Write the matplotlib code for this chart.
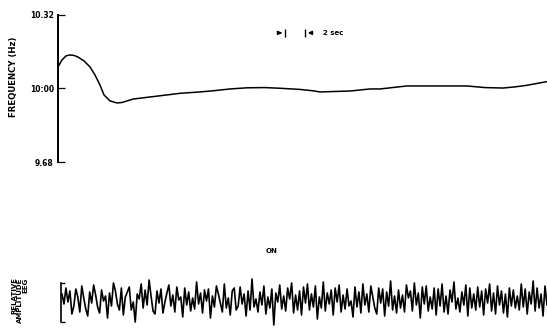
import numpy as np
import matplotlib
matplotlib.use('Agg')
import matplotlib.pyplot as plt

# ── frequency trace (time in s, frequency in Hz) ─────────────────────────────
freq_t = [0.0, 0.4, 0.8, 1.2, 1.6, 2.0, 2.6, 3.2, 3.7, 4.2, 4.6, 5.2, 5.9, 6.4,
          7.5, 9.2, 10.9, 12.2, 14.2, 15.5, 17.2, 18.9, 20.7, 22.2, 24.2,
          25.5, 26.2, 27.7, 29.2, 31.2, 32.2, 34.9, 38.2, 40.9, 42.7, 44.5,
          45.7, 46.9, 48.9]
freq_hz = [10.094, 10.124, 10.142, 10.146, 10.144, 10.137, 10.120, 10.094,
           10.059, 10.015, 9.972, 9.946, 9.937, 9.939, 9.954, 9.963, 9.972,
           9.979, 9.985, 9.990, 9.998, 10.003, 10.004, 10.001, 9.996, 9.990,
           9.985, 9.987, 9.989, 9.998, 9.998, 10.011, 10.011, 10.011, 10.004,
           10.002, 10.007, 10.014, 10.030]
freq_ticks = [9.68, 10.00, 10.32]
freq_labels = ['9.68', '10:00', '10.32']

# ── EEG (relative amplitude, one sample per ~0.2 s) ─────────────────────────
eeg_amp = [6, -4, 12, -2, 9, -14, -6, 11, 3, -12,
           14, 2, -9, -16, 8, -3, 15, 5, -7, -13,
           10, -1, 4, -18, 7, -6, 17, 9, -4, -10,
           12, -15, 3, 8, 13, -10, -2, -22, 6, 1,
           16, -8, 10, -5, 20, 4, -11, -14, 9, -3,
           11, -13, -2, 7, 15, -6, 5, -12, 13, 0,
           3, -17, 12, -5, 8, -11, 2, -9, 18, -4,
           7, -13, 10, -1, 11, -18, 4, -7, 14, 6,
           -3, -12, 16, -8, 2, -15, 9, 12, -10, -6,
           13, -4, 6, -16, 9, -10, 21, -7, 1, -12,
           8, -5, 14, -14, 3, -8, 11, -25, 7, -2,
           15, -9, 4, -11, 12, 1, 17, -13, 5, -10,
           9, -15, 13, -3, 16, -10, 6, -7, 14, -19,
           3, -8, 18, -11, 7, -4, 10, -15, 12, -2,
           15, -12, 5, -9, 11, -6, -1, -17, 13, -7,
           8, -13, 16, -5, 6, -12, 14, 3, -8, -14,
           12, -3, 11, -16, 8, -6, 19, -10, 4, -13,
           10, -8, 5, -12, 15, 2, 9, -11, 17, -5,
           7, -18, 13, -4, 14, -11, 3, -9, 12, -15,
           11, -6, 16, -12, 4, -14, 10, -2, 18, -9,
           2, -12, 8, -5, 15, -16, 12, -8, 6, -10,
           13, -7, 9, -15, 11, -3, 16, -11, 7, -14,
           14, -5, 9, -13, 6, -17, 12, -6, 10, -8,
           4, -10, 16, -7, 11, -14, 8, -4, 19, -11,
           12, -8, 6, -16, 14, -5]
eeg_start, eeg_end = 0.4, 48.9
bracket = (-22, 17)

scale_start, scale_len = 22.7, 2.0    # the "2 sec" marker
t_max = 48.9

plt.rcParams['font.family'] = 'DejaVu Sans'
fig = plt.figure(figsize=(5.47, 3.33), dpi=100)

# ── frequency panel ─────────────────────────────────────────────────────────
ax = fig.add_axes([0.106, 0.5135, 0.894, 0.4415])
ax.plot(freq_t, freq_hz, color='black', lw=1.1)
ax.set_xlim(0, t_max)
ax.set_ylim(9.68, 10.32)
ax.set_yticks(freq_ticks)
ax.set_yticklabels(freq_labels, fontsize=5.5, fontweight='bold')
ax.tick_params(axis='y', direction='in', length=5, width=0.9, pad=3)
ax.set_xticks([])
for s in ('top', 'right', 'bottom'):
    ax.spines[s].set_visible(False)
ax.spines['left'].set_linewidth(1.4)
ax.set_ylabel('FREQUENCY (Hz)', fontsize=6.2, fontweight='bold')
ax.yaxis.set_label_coords(-0.082, 0.58)

y_sc = 10.242
ax.annotate('', xy=(scale_start, y_sc), xytext=(scale_start - 0.8, y_sc),
            arrowprops=dict(arrowstyle='-|>', color='black', lw=1.2,
                            mutation_scale=5))
ax.annotate('', xy=(scale_start + scale_len, y_sc),
            xytext=(scale_start + scale_len + 1.0, y_sc),
            arrowprops=dict(arrowstyle='-|>', color='black', lw=1.2,
                            mutation_scale=5))
ax.plot([scale_start, scale_start + scale_len], [y_sc, y_sc], ls='none',
        marker='|', ms=6, mew=1.0, color='black')
ax.text(scale_start + scale_len + 1.8, y_sc, '2 sec', fontsize=5,
        fontweight='bold', va='center', ha='left')

fig.text(272 / 547, 1 - 251 / 333, 'ON', fontsize=5, fontweight='bold',
         ha='center', va='center')

# ── EEG panel ───────────────────────────────────────────────────────────────
ax2 = fig.add_axes([0.106, 0.0, 0.894, 55 / 333])
eeg_t = np.linspace(eeg_start, eeg_end, len(eeg_amp))
ax2.plot(eeg_t, eeg_amp, color='black', lw=1.2)
ax2.set_xlim(0, t_max)
ax2.set_ylim(-33, 22)
ax2.set_xticks([])
ax2.set_yticks(list(bracket))
ax2.set_yticklabels([])
ax2.tick_params(axis='y', direction='in', length=3, width=1.0)
for s in ('top', 'right', 'bottom'):
    ax2.spines[s].set_visible(False)
ax2.spines['left'].set_bounds(*bracket)
ax2.spines['left'].set_linewidth(1.2)
ax2.spines['left'].set_position(('data', 0.3))

fig.text(20 / 547, 1 - 300 / 333, 'RELATIVE\nAMPLITUDE\nEEG', rotation=90,
         fontsize=5, fontweight='bold', ha='center', va='center',
         linespacing=0.95, multialignment='right')

fig.savefig('out.png', dpi=100)
